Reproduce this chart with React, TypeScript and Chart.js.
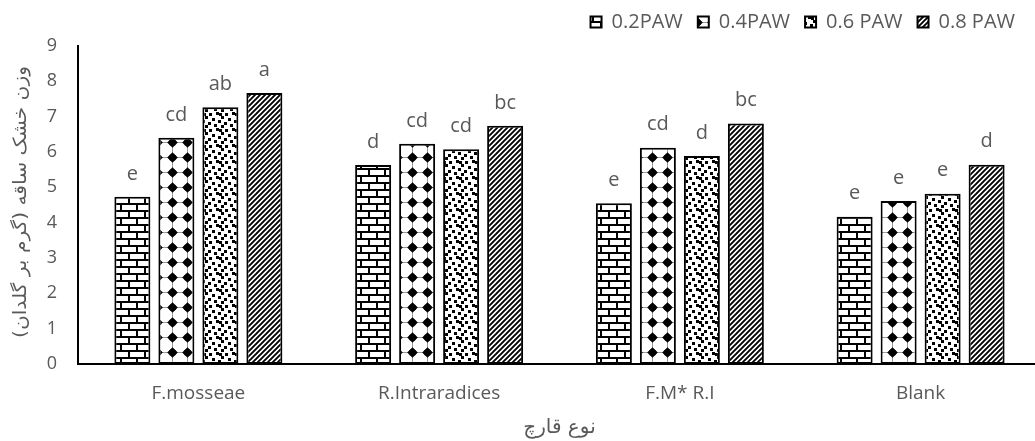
import React, { useEffect, useRef } from "react";
import { Chart, registerables } from "chart.js";

Chart.register(...registerables);

// ---------- data ----------
const categories = ["F.mosseae", "R.Intraradices", "F.M* R.I", "Blank"];
const seriesNames = ["0.2PAW", "0.4PAW", "0.6 PAW", "0.8 PAW"];
const paw02 = [4.73, 5.63, 4.55, 4.17];
const paw04 = [6.4, 6.23, 6.12, 4.61];
const paw06 = [7.27, 6.08, 5.89, 4.82];
const paw08 = [7.67, 6.74, 6.81, 5.64];
const letters02 = ["e", "d", "e", "e"];
const letters04 = ["cd", "cd", "cd", "e"];
const letters06 = ["ab", "cd", "d", "e"];
const letters08 = ["a", "bc", "bc", "d"];
const yMin = 0;
const yMax = 9;
const yStep = 1;
const xTitle = "نوع قارچ";
const yTitle = "وزن خشک ساقه (گرم بر گلدان)";

const TEXT = "#595959";
const LATIN = '"Open Sans", "DejaVu Sans", sans-serif';
const ARABIC = '"DejaVu Sans", sans-serif';

// ---------- patterns ----------
function tile(w: number, h: number, draw: (g: CanvasRenderingContext2D) => void) {
  const c = document.createElement("canvas");
  c.width = w;
  c.height = h;
  const g = c.getContext("2d")!;
  g.fillStyle = "#fff";
  g.fillRect(0, 0, w, h);
  g.fillStyle = "#000";
  g.strokeStyle = "#000";
  draw(g);
  return g.createPattern(c, "repeat")!;
}

function brickPattern() {
  return tile(16, 14, (g) => {
    g.fillRect(0, 0, 16, 2);
    g.fillRect(0, 7, 16, 2);
    g.fillRect(0, 2, 2, 5);
    g.fillRect(8, 9, 2, 5);
  });
}

function starPattern() {
  return tile(15, 15, (g) => {
    g.strokeStyle = "#999";
    g.lineWidth = 1;
    g.beginPath();
    g.moveTo(0, 7.5);
    g.lineTo(15, 7.5);
    g.moveTo(7.5, 0);
    g.lineTo(7.5, 15);
    g.stroke();
    g.beginPath();
    g.arc(7.5, 7.5, 3.6, 0, Math.PI * 2);
    g.fill();
    g.beginPath();
    g.moveTo(7.5, 2.2);
    g.lineTo(12.8, 7.5);
    g.lineTo(7.5, 12.8);
    g.lineTo(2.2, 7.5);
    g.closePath();
    g.fill();
  });
}

function dotsPattern() {
  const pts = [
    [1, 1], [8, 0], [13, 4], [4, 6], [10, 8], [0, 10], [6, 12], [13, 13], [11, 1],
  ];
  return tile(16, 16, (g) => {
    pts.forEach(([x, y]) => g.fillRect(x, y, 3, 3));
  });
}

function stripePattern() {
  return tile(5, 5, (g) => {
    g.lineWidth = 1.9;
    g.beginPath();
    g.moveTo(-1, 6);
    g.lineTo(6, -1);
    g.moveTo(-1, 1);
    g.lineTo(1, -1);
    g.moveTo(4, 6);
    g.lineTo(6, 4);
    g.stroke();
  });
}

// ---------- plugins ----------
const allLetters = [letters02, letters04, letters06, letters08];

const letterPlugin = {
  id: "barLetters",
  afterDatasetsDraw(chart: any) {
    const ctx = chart.ctx;
    ctx.save();
    ctx.font = `20px ${LATIN}`;
    ctx.fillStyle = TEXT;
    ctx.textAlign = "center";
    ctx.textBaseline = "middle";
    chart.data.datasets.forEach((_: any, i: number) => {
      const meta = chart.getDatasetMeta(i);
      meta.data.forEach((bar: any, j: number) => {
        ctx.fillText(allLetters[i][j], bar.x, bar.y - 23);
      });
    });
    ctx.restore();
  },
};

const yTitlePlugin = {
  id: "yTitleRtl",
  afterDraw(chart: any) {
    const ctx = chart.ctx;
    const ca = chart.chartArea;
    ctx.save();
    ctx.font = `18px ${ARABIC}`;
    ctx.fillStyle = TEXT;
    (ctx as any).direction = "rtl";
    ctx.textAlign = "center";
    ctx.textBaseline = "middle";
    const w = ctx.measureText(yTitle).width;
    const target = 272;
    ctx.translate(21, (ca.top + ca.bottom) / 2 - 3);
    ctx.rotate(-Math.PI / 2);
    ctx.scale(target / w, 1);
    ctx.fillText(yTitle, 0, 0);
    ctx.restore();
  },
};

const legendShift = {
  id: "legendShift",
  afterLayout(chart: any) {
    const l = chart.legend;
    if (!l) return;
    const dx = 1030 - l.right;
    const dy = 22 - (l.top + 15 + 10);
    l.left += dx;
    l.right += dx;
    l.top += dy;
    l.bottom += dy;
  },
};

export default function App() {
  const ref = useRef<HTMLCanvasElement | null>(null);

  useEffect(() => {
    if (!ref.current) return;
    const fills = [brickPattern(), starPattern(), dotsPattern(), stripePattern()];
    const values = [paw02, paw04, paw06, paw08];
    const chart = new Chart(ref.current, {
      type: "bar",
      data: {
        labels: categories,
        datasets: seriesNames.map((name, i) => ({
          label: name,
          data: values[i],
          backgroundColor: fills[i],
          borderColor: "#000",
          borderWidth: 2,
          borderSkipped: false,
          categoryPercentage: 0.731,
          barPercentage: 0.818,
        })),
      },
      options: {
        responsive: false,
        animation: false,
        devicePixelRatio: 1,
        layout: { padding: { top: 1, left: 0, right: 0, bottom: 0 } },
        plugins: {
          tooltip: { enabled: false },
          legend: {
            position: "top",
            align: "end",
            labels: {
              boxWidth: 11,
              boxHeight: 11,
              padding: 15,
              color: TEXT,
              font: { family: LATIN, size: 20 },
            },
          },
        },
        scales: {
          x: {
            grid: { display: false, drawTicks: false },
            border: { display: true, color: "#000", width: 2 },
            ticks: { color: TEXT, font: { family: LATIN, size: 19 }, padding: 18, maxRotation: 0 },
            title: {
              display: true,
              text: xTitle,
              color: TEXT,
              font: { family: ARABIC, size: 20 },
              padding: { top: 0, bottom: 1 },
            },
            afterFit(scale: any) {
              scale.height = 77;
            },
          },
          y: {
            min: yMin,
            max: yMax,
            grid: { display: false, drawTicks: false },
            border: { display: true, color: "#000", width: 2 },
            ticks: { stepSize: yStep, color: TEXT, font: { family: LATIN, size: 18 }, padding: 21 },
            afterFit(scale: any) {
              scale.width = 78;
            },
          },
        },
      },
      plugins: [letterPlugin, yTitlePlugin, legendShift],
    });
    return () => chart.destroy();
  }, []);

  return (
    <div
      style={{
        position: "fixed",
        left: 0,
        top: 0,
        width: 1035,
        height: 441,
        overflow: "hidden",
        background: "#fff",
      }}
    >
      <canvas ref={ref} width={1041} height={441} style={{ display: "block" }} />
    </div>
  );
}
